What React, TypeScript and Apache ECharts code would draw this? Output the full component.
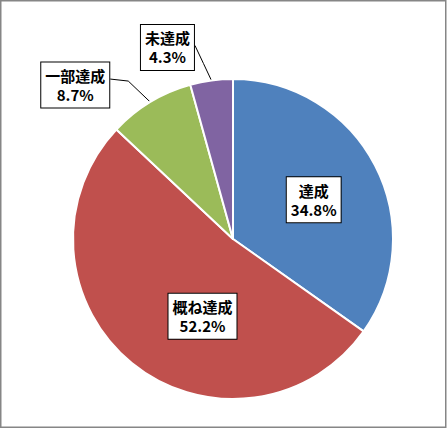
import { useEffect, useRef } from 'react';
import * as echarts from 'echarts';

// categories and shares (%) clockwise from 12 o'clock
const categories = ['達成', '概ね達成', '一部達成', '未達成'];
const shares = [34.8, 52.2, 8.7, 4.3];
const colors = ['#4F81BD', '#C0504D', '#9BBB59', '#8064A2'];

// label placement: inside offsets for the big slices, outside boxes for the small ones
const insideOffsets: Record<number, [number, number]> = { 0: [7, -1], 1: [22, 13] };
const outsideOffsets: Record<number, { box: [number, number]; elbow: [number, number] }> = {
  2: { box: [-75, -17], elbow: [-22, -21] },
  3: { box: [-44, -33], elbow: [-8, -17] },
};

export default function App() {
  const chartRef = useRef<HTMLDivElement>(null);

  useEffect(() => {
    if (!chartRef.current) return;
    const chart = echarts.init(chartRef.current, null, { renderer: 'svg' });

    const labelBox = {
      color: '#000',
      fontFamily: '"Noto Sans CJK JP", sans-serif',
      fontSize: 15,
      fontWeight: 'bold' as const,
      lineHeight: 19,
      backgroundColor: '#fff',
      borderColor: '#000',
      borderWidth: 1,
      padding: [4, 4, 3, 4],
      align: 'center' as const,
    };

    chart.setOption({
      animation: false,
      backgroundColor: '#fff',
      graphic: [
        {
          type: 'rect',
          shape: { x: 0.75, y: 0.75, width: 445, height: 426.5 },
          style: { fill: 'none', stroke: '#868686', lineWidth: 1.5 },
          silent: true,
        },
      ],
      series: [
        {
          type: 'pie',
          center: [233, 239],
          radius: 160,
          startAngle: 90,
          clockwise: true,
          avoidLabelOverlap: false,
          itemStyle: { borderColor: '#fff', borderWidth: 2 },
          label: { ...labelBox, formatter: '{b}\n{c}%' },
          labelLine: { show: true, length: 20, length2: 10, lineStyle: { color: '#000', width: 1 } },
          labelLayout: (params: any) => {
            const out = outsideOffsets[params.dataIndex];
            if (!out || !params.labelLinePoints) return {};
            const p0 = params.labelLinePoints[0];
            const cx = p0[0] + out.box[0];
            const cy = p0[1] + out.box[1];
            const w = params.labelRect.width;
            const elbow = [p0[0] + out.elbow[0], p0[1] + out.elbow[1]];
            const end = [cx + w / 2, params.dataIndex === 2 ? elbow[1] - 2 : cy - 2];
            return {
              x: cx,
              y: cy,
              align: 'center',
              verticalAlign: 'middle',
              labelLinePoints: [p0, elbow, end],
            };
          },
          data: categories.map((name, i) => ({
            name,
            value: shares[i],
            itemStyle: { color: colors[i] },
            label: insideOffsets[i]
              ? { position: 'inside', offset: insideOffsets[i] }
              : { position: 'outside' },
            labelLine: { show: !insideOffsets[i] },
          })),
        },
      ],
    });

    return () => {
      chart.dispose();
    };
  }, []);

  return (
    <div
      ref={chartRef}
      style={{ position: 'fixed', left: 0, top: 0, width: '448px', height: '430px' }}
    />
  );
}
